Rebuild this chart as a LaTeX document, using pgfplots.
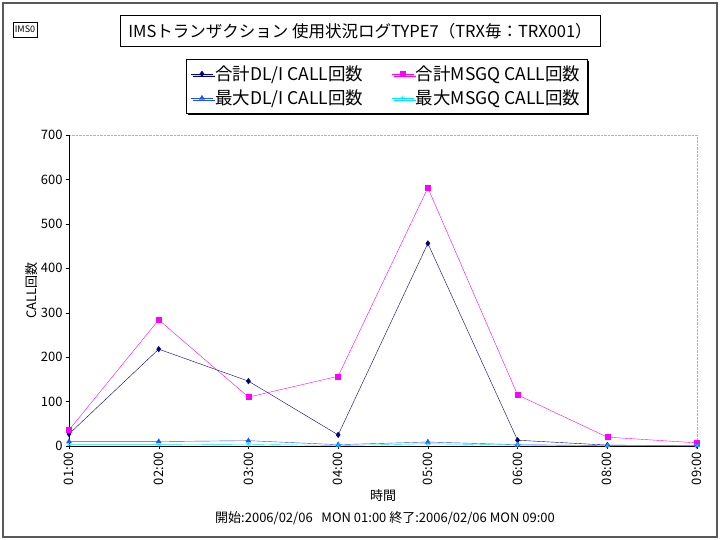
\documentclass[border=0pt]{standalone}
\usepackage{fontspec}
\setmainfont{Noto Sans CJK JP}
\usepackage{pgfplots}
\pgfplotsset{compat=1.18}
\usetikzlibrary{shadows}
\definecolor{dlnavy}{RGB}{0,0,128}
\definecolor{msgmag}{RGB}{255,0,255}
\definecolor{dlblue}{RGB}{30,80,255}
\definecolor{msgcyan}{RGB}{0,230,255}
\begin{document}
\begin{tikzpicture}
% outer frame (1pt = 1px)
\fill[white] (-69pt,-94pt) rectangle (651pt,446pt);
\draw[gray!70!black,line width=1.5pt] (-66pt,-91pt) rectangle (648pt,443pt);
\begin{axis}[
    at={(0pt,0pt)}, anchor=south west,
    scale only axis,
    width=628pt, height=311pt,
    xmin=0, xmax=7, ymin=0, ymax=700,
    xtick={0,...,7},
    xticklabels={01:00,02:00,03:00,04:00,05:00,06:00,08:00,09:00},
    xticklabel style={rotate=90, anchor=east, font=\fontsize{13}{13}\selectfont},
    ytick={0,100,...,700},
    yticklabel style={font=\fontsize{13}{13}\selectfont},
    /pgf/number format/assume math mode=true,
    tick align=outside, major tick length=3pt,
    tick style={black}, xtick pos=bottom, ytick pos=left,
    axis line style={gray!60, densely dotted},
    xlabel={時間}, xlabel style={font=\fontsize{13}{13}\selectfont, yshift=2pt},
    ylabel={CALL回数}, ylabel style={font=\fontsize{13}{13}\selectfont, yshift=-4pt},
    legend columns=2,
    legend style={at={(0.5056,1.1576)}, anchor=center, draw=black,
        font=\fontsize{17.5}{17.5}\selectfont, fill=white,
        drop shadow={shadow xshift=2pt, shadow yshift=-2pt, fill=black, opacity=1},
        /tikz/every even column/.append style={column sep=26pt},
        row sep=4pt, inner sep=5pt},
    legend image code/.code={
        \draw[mark repeat=2,mark phase=2] plot coordinates {(0pt,0pt) (11pt,0pt) (22pt,0pt)};},
    legend cell align=left,
    clip=false,
]
\addplot[dlnavy, mark=diamond*, mark size=2.8pt, thin] coordinates {
    (0,27) (1,218) (2,146) (3,25) (4,456) (5,13) (6,2) (7,1)
};
\addlegendentry{合計DL/I CALL回数}
\addplot[msgmag, mark=square*, mark size=2.5pt, thin] coordinates {
    (0,36) (1,284) (2,110) (3,157) (4,581) (5,115) (6,20) (7,7)
};
\addlegendentry{合計MSGQ CALL回数}
\addplot[dlblue, mark=triangle*, mark size=2.8pt, thin] coordinates {
    (0,10) (1,10) (2,12) (3,3) (4,9) (5,3) (6,1) (7,1)
};
\addlegendentry{最大DL/I CALL回数}
\addplot[msgcyan, mark=asterisk, mark size=2.5pt, thin] coordinates {
    (0,3) (1,3) (2,4) (3,1) (4,5) (5,2) (6,1) (7,1)
};
\addlegendentry{最大MSGQ CALL回数}
\draw[black] (rel axis cs:0,1) -- (rel axis cs:0,0) -- (rel axis cs:1,0);
\end{axis}
% title box
\node[draw=black, fill=white, minimum width=480pt, minimum height=31pt,
      font=\fontsize{16.5}{16.5}\selectfont, inner sep=2pt]
      at (291pt,415pt) {IMSトランザクション 使用状況ログTYPE7（TRX毎：TRX001）};
% IMS0 box
\node[draw=black, fill=white, font=\fontsize{9}{9}\selectfont, inner sep=2pt,
      minimum height=15pt] at (-44pt,416.5pt) {IMS0};
% footer
\node[font=\fontsize{13}{13}\selectfont] at (316pt,-72pt)
      {開始:2006/02/06~~~MON 01:00 終了:2006/02/06 MON 09:00};
\end{tikzpicture}
\end{document}
